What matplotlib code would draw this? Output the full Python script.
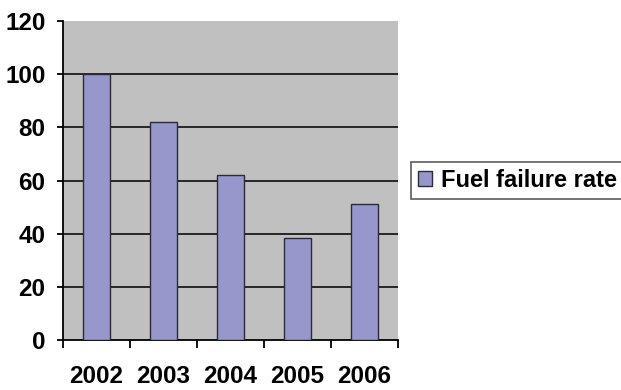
import numpy as np
import matplotlib.pyplot as plt
from matplotlib.patches import Patch

years = ['2002', '2003', '2004', '2005', '2006']
rate = [100, 82, 62, 38.5, 51]
yticks = [0, 20, 40, 60, 80, 100, 120]

plt.rcParams['font.family'] = ['Liberation Sans', 'DejaVu Sans']
plt.rcParams['font.weight'] = 'bold'

fig = plt.figure(figsize=(6.21, 3.90), dpi=100)
fig.patch.set_facecolor('white')
ax = fig.add_axes([0.1014, 0.128, 0.5396, 0.818])
ax.set_facecolor('#c0c0c0')

x = np.arange(len(years))
ax.bar(x, rate, width=0.4, color='#9797cc', edgecolor='#2a2a3a', linewidth=1.0, zorder=3)

# horizontal grid lines behind the bars
for v in yticks[1:-1]:
    ax.axhline(v, color='#1a1a1a', linewidth=1.3, zorder=1)

ax.set_xlim(-0.5, len(years) - 0.5)
ax.set_ylim(0, 120)
ax.set_yticks(yticks)
ax.set_yticklabels([str(v) for v in yticks], fontsize=17.5, fontweight='bold')

# ticks sit on category boundaries, labels in the middle
ax.set_xticks(np.arange(len(years) + 1) - 0.5)
ax.set_xticklabels([])
ax.set_xticks(x, minor=True)
ax.set_xticklabels(years, minor=True, fontsize=17.5, fontweight='bold')
ax.tick_params(axis='x', which='major', length=6, width=1.3, direction='out')
ax.tick_params(axis='x', which='minor', length=0, pad=18)
ax.tick_params(axis='y', length=4.5, width=1.3, pad=8)

for s in ['top', 'right']:
    ax.spines[s].set_visible(False)
ax.spines['left'].set_linewidth(1.3)
ax.spines['bottom'].set_linewidth(1.3)

handle = Patch(facecolor='#9797cc', edgecolor='#2a2a3a', linewidth=1.0)
leg = fig.legend([handle], ['Fuel failure rate'], loc='center left',
                 bbox_to_anchor=(0.662, 0.538), frameon=True, fancybox=False,
                 prop={'size': 17, 'weight': 'bold'}, handlelength=0.6,
                 handleheight=0.6, handletextpad=0.35, borderpad=0.3,
                 borderaxespad=0)
leg.get_frame().set_edgecolor('#333333')
leg.get_frame().set_linewidth(1.2)

fig.savefig('out.png', dpi=100)
